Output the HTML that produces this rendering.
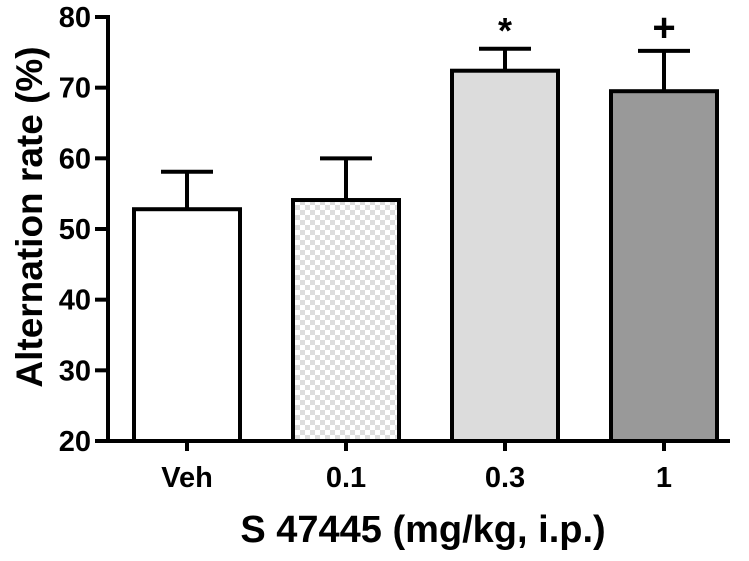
<!DOCTYPE html>
<html><head><meta charset="utf-8"><style>
body{margin:0;background:#fff}
svg text{font-family:"Liberation Sans",Arial,sans-serif;font-weight:bold;fill:#000}
</style></head><body>
<svg id="chart" width="749" height="556" viewBox="0 0 749 556" xmlns="http://www.w3.org/2000/svg">
<defs>
<pattern id="checker" width="10" height="10" patternUnits="userSpaceOnUse">
<rect width="10" height="10" fill="#fff"/>
<rect width="5" height="5" fill="#ddd"/>
<rect x="5" y="5" width="5" height="5" fill="#ddd"/>
</pattern>
</defs>
<g id="plot"></g>
</svg>
<script>
const categories = ["Veh", "0.1", "0.3", "1"];
const means = [52.8, 54.1, 72.4, 69.5];
const errors = [5.3, 5.9, 3.1, 5.7];
const marks = ["", "", "*", "+"];
const yTicks = [20, 30, 40, 50, 60, 70, 80];
const fills = ["#fff", "url(#checker)", "#dcdcdc", "#999"];

const ns = "http://www.w3.org/2000/svg";
const g = document.getElementById("plot");
const x0 = 108, yBase = 441, yTop = 17, yMin = 20, yMax = 80;
const step = 159, firstCenter = 187, barW = 106, capW = 52;
const y = v => yBase - (v - yMin) / (yMax - yMin) * (yBase - yTop);
const xc = i => firstCenter + i * step;
function el(tag, attrs, txt) {
  const e = document.createElementNS(ns, tag);
  for (const k in attrs) e.setAttribute(k, attrs[k]);
  if (txt !== undefined) e.textContent = txt;
  g.appendChild(e);
  return e;
}
categories.forEach((c, i) => {
  const b = el("rect", {x: xc(i) - barW / 2, y: y(means[i]), width: barW, height: yBase - y(means[i]), fill: fills[i], stroke: "#000", "stroke-width": 4});
  
  
  const e1 = el("line", {x1: xc(i), x2: xc(i), y1: y(means[i]), y2: y(means[i] + errors[i]), stroke: "#000", "stroke-width": 4});
  
  
  const e2 = el("line", {x1: xc(i) - capW / 2, x2: xc(i) + capW / 2, y1: y(means[i] + errors[i]), y2: y(means[i] + errors[i]), stroke: "#000", "stroke-width": 4});
  
  
  if (marks[i]) {
    const m = el("text", {x: xc(i), y: y(means[i] + errors[i]) - (marks[i] === "*" ? 6 : 10), "text-anchor": "middle", "font-size": marks[i] === "*" ? 36 : 40}, marks[i]);
    
    
  }
  const t = el("line", {x1: xc(i), x2: xc(i), y1: yBase, y2: yBase + 10, stroke: "#000", "stroke-width": 4});
  
  
  const l = el("text", {x: xc(i), y: 487, "text-anchor": "middle", "font-size": 29}, c);
  
  
});
yTicks.forEach(v => {
  const t = el("line", {x1: x0 - 13, x2: x0, y1: y(v), y2: y(v), stroke: "#000", "stroke-width": 4});
  
  
  const l = el("text", {x: x0 - 17, y: y(v) + 10, "text-anchor": "end", "font-size": 29}, v);
  
  
});
const ya = el("line", {x1: x0, x2: x0, y1: yTop - 2, y2: yBase + 2, stroke: "#000", "stroke-width": 4});


const xa = el("line", {x1: x0 - 2, x2: 730, y1: yBase, y2: yBase, stroke: "#000", "stroke-width": 4});


const yt = el("text", {x: 0, y: 0, transform: "translate(42,217) rotate(-90)", "text-anchor": "middle", "font-size": 37}, "Alternation rate (%)");


const xt = el("text", {x: 423, y: 542, "text-anchor": "middle", "font-size": 38}, "S 47445 (mg/kg, i.p.)");


</script>
</body></html>
